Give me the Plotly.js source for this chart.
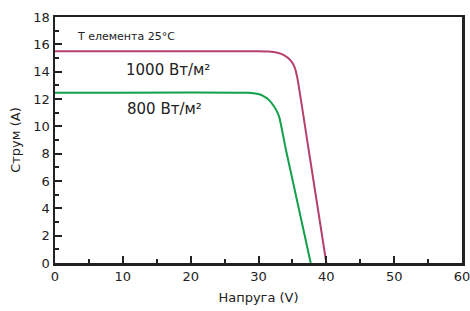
<!DOCTYPE html>
<html>
<head>
<meta charset="utf-8">
<script src="https://cdn.plot.ly/plotly-3.0.1.min.js"></script>
<style>html,body{margin:0;padding:0;background:#fff;}#chart{width:470px;height:311px;}</style>
</head>
<body>
<div id="chart"></div>
<script>
// Voltage (V) and current (A) for each irradiance curve
const v1000 = [0, 30, 31.5, 32.8, 33.8, 34.7, 35.3, 35.7, 37.4, 40];
const i1000 = [15.5, 15.5, 15.47, 15.38, 15.2, 14.85, 14.35, 13.6, 8.27, 0];
const v800 = [0, 28.5, 29.8, 30.8, 31.6, 32.3, 32.8, 33.1, 34.05, 37.7];
const i800 = [12.45, 12.45, 12.38, 12.2, 11.9, 11.45, 11.0, 10.6, 8.27, 0];
const labels = ["1000 Вт/м²", "800 Вт/м²"];
const note = "T елемента 25°C";
const xTitle = "Напруга (V)";
const yTitle = "Струм (A)";

const font = "'DejaVu Sans', sans-serif";
const traces = [
  {x: v1000, y: i1000, mode: "lines", line: {color: "#b5406e", width: 2, shape: "spline", smoothing: 0.6}, name: labels[0], hoverinfo: "skip"},
  {x: v800, y: i800, mode: "lines", line: {color: "#12a04a", width: 2, shape: "spline", smoothing: 0.6}, name: labels[1], hoverinfo: "skip"}
];
const axisCommon = {
  showline: true, mirror: true, linecolor: "#222", linewidth: 2.5,
  showgrid: false, zeroline: false, ticks: "inside", ticklen: 7, tickwidth: 2, tickcolor: "#222",
  ticklabeloverflow: "allow",
  tickfont: {family: font, size: 13, color: "#222"}
};
const layout = {
  width: 470, height: 311,
  margin: {l: 55, r: 8, t: 17, b: 48},
  paper_bgcolor: "#fff", plot_bgcolor: "#fff",
  showlegend: false,
  font: {family: font, color: "#222"},
  xaxis: Object.assign({}, axisCommon, {
    range: [0, 60], dtick: 10, tick0: 0,
    minor: {ticks: "inside", dtick: 5, ticklen: 4, tickwidth: 2, tickcolor: "#222"},
    title: {text: xTitle, font: {family: font, size: 13, color: "#222"}, standoff: 10}
  }),
  yaxis: Object.assign({}, axisCommon, {
    range: [0, 18], dtick: 2, tick0: 0,
    minor: {ticks: "inside", dtick: 1, ticklen: 4, tickwidth: 2, tickcolor: "#222"},
    title: {text: yTitle, font: {family: font, size: 13, color: "#222"}, standoff: 10}
  }),
  annotations: [
    {x: 2.95, y: 16.6, xref: "x", yref: "y", text: note, showarrow: false, xanchor: "left", yanchor: "middle", font: {family: font, size: 11, color: "#222"}},
    {x: 10.1, y: 14.15, xref: "x", yref: "y", text: labels[0], showarrow: false, xanchor: "left", yanchor: "middle", font: {family: font, size: 15, color: "#222"}},
    {x: 10.3, y: 11.3, xref: "x", yref: "y", text: labels[1], showarrow: false, xanchor: "left", yanchor: "middle", font: {family: font, size: 15, color: "#222"}}
  ]
};
Plotly.newPlot("chart", traces, layout, {staticPlot: true, displayModeBar: false});
</script>
</body>
</html>
